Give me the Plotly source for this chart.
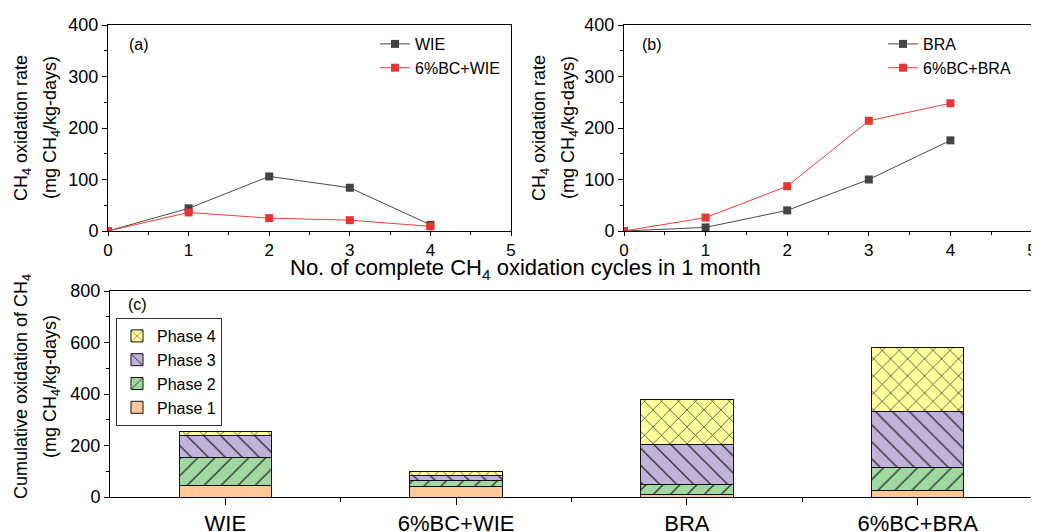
import plotly.graph_objects as go

# ---------------- data ----------------
cycles = [0, 1, 2, 3, 4]
wie = [0, 44, 106, 84, 12]
bc_wie = [0, 36, 25, 21, 9]
bra = [0, 7, 40, 100, 176]
bc_bra = [0, 26, 87, 214, 248]

categories = ["WIE", "6%BC+WIE", "BRA", "6%BC+BRA"]
phase1 = [45, 39, 9, 27]
phase2 = [109, 26, 41, 88]
phase3 = [85, 19, 152, 216]
phase4 = [14, 14, 177, 250]

# page body has an 8px margin; the figure is sized to fill the rest of the window
OFF = 8
W, H = 1039 - OFF, 532 - OFF
FONT = "Arial, Liberation Sans, sans-serif"
DARK = "#4a4a4a"
RED = "#f03c3c"


def px(x):
    return (x - OFF) / W


def py(y):
    return 1 - (y - OFF) / H


fig = go.Figure()

# ---- panel (a) ----
fig.add_trace(go.Scatter(x=cycles, y=wie, name="WIE", mode="lines+markers",
                         line=dict(color=DARK, width=1),
                         marker=dict(symbol="square", size=8, color="#444444"),
                         xaxis="x", yaxis="y", legend="legend"))
fig.add_trace(go.Scatter(x=cycles, y=bc_wie, name="6%BC+WIE", mode="lines+markers",
                         line=dict(color=RED, width=1),
                         marker=dict(symbol="square", size=8, color="#ee3333"),
                         xaxis="x", yaxis="y", legend="legend"))
# ---- panel (b) ----
fig.add_trace(go.Scatter(x=cycles, y=bra, name="BRA", mode="lines+markers",
                         line=dict(color=DARK, width=1),
                         marker=dict(symbol="square", size=8, color="#444444"),
                         xaxis="x2", yaxis="y2", legend="legend2"))
fig.add_trace(go.Scatter(x=cycles, y=bc_bra, name="6%BC+BRA", mode="lines+markers",
                         line=dict(color=RED, width=1),
                         marker=dict(symbol="square", size=8, color="#ee3333"),
                         xaxis="x2", yaxis="y2", legend="legend2"))

# ---- panel (c) ----
xpos = list(range(len(categories)))
phases = [
    ("Phase 1", phase1, "#ffc896", ""),
    ("Phase 2", phase2, "#a0d8a0", "/"),
    ("Phase 3", phase3, "#c0b2d8", "\\"),
    ("Phase 4", phase4, "#ffff9c", "x"),
]
for name, vals, col, shape in phases:
    fig.add_trace(go.Bar(x=xpos, y=vals, name=name, width=0.4,
                         marker=dict(color=col, line=dict(color="#111111", width=1),
                                     pattern=dict(shape=shape, fgcolor="#111111", bgcolor=col,
                                                  size=12, solidity=0.1, fillmode="replace")),
                         xaxis="x3", yaxis="y3", legend="legend3"))

axis_common = dict(showline=True, linecolor="black", linewidth=1, showgrid=False,
                   zeroline=False, ticks="outside", tickcolor="black", ticklen=5,
                   tickfont=dict(family=FONT, size=18, color="black"), mirror=True,
                   automargin=False)
top_x = {**axis_common, "ticklen": 4, "tickfont": dict(family=FONT, size=17, color="black")}
minor_x = dict(ticks="outside", ticklen=3, tickcolor="black", dtick=0.5)

dom_a = [px(108), px(511)]
dom_b = [px(624), px(1032)]
dom_c = [px(110), px(1033)]
ydom_top = [py(231), py(25)]
ydom_bot = [py(497), py(291)]

fig.update_layout(
    template="none",
    width=W, height=H, margin=dict(l=0, r=0, t=0, b=0, autoexpand=False),
    paper_bgcolor="white", plot_bgcolor="white",
    font=dict(family=FONT, color="black"),
    barmode="stack",
    xaxis=dict(domain=dom_a, anchor="y", range=[0, 5], dtick=1, minor=minor_x, **top_x),
    yaxis=dict(domain=ydom_top, anchor="x", range=[0, 400], dtick=100,
               minor=dict(ticks="outside", ticklen=3, tickcolor="black", dtick=50), **axis_common),
    xaxis2=dict(domain=dom_b, anchor="y2", range=[0, 5], dtick=1, minor=minor_x, **top_x),
    yaxis2=dict(domain=ydom_top, anchor="x2", range=[0, 400], dtick=100,
                minor=dict(ticks="outside", ticklen=3, tickcolor="black", dtick=50), **axis_common),
    xaxis3=dict(domain=dom_c, anchor="y3", range=[-0.5, 3.5], tickmode="array",
                tickvals=xpos, ticktext=categories,
                minor=dict(ticks="outside", ticklen=4, tickcolor="black", tickmode="array",
                           tickvals=[i + 0.5 for i in xpos[:-1]]),
                **{**axis_common, "ticklen": 7, "tickfont": dict(family=FONT, size=22, color="black")}),
    yaxis3=dict(domain=ydom_bot, anchor="x3", range=[0, 800], dtick=200,
                minor=dict(ticks="outside", ticklen=3, tickcolor="black", dtick=100), **axis_common),
    showlegend=True,
    legend=dict(x=px(375), y=py(27), xanchor="left", yanchor="top",
                bgcolor="rgba(0,0,0,0)", font=dict(family=FONT, size=16), itemwidth=30,
                tracegroupgap=0),
    legend2=dict(x=px(883), y=py(27), xanchor="left", yanchor="top",
                 bgcolor="rgba(0,0,0,0)", font=dict(family=FONT, size=16), itemwidth=30),
    legend3=dict(x=px(116), y=py(318), xanchor="left", yanchor="top", traceorder="reversed",
                 bgcolor="white", bordercolor="#333333", borderwidth=1,
                 font=dict(family=FONT, size=16), itemwidth=30),
)

# top / right inside ticks via overlay axes
inside = dict(showline=False, showgrid=False, zeroline=False, ticks="inside",
              tickcolor="black", ticklen=5, showticklabels=False, automargin=False)
fig.update_layout(
    xaxis4=dict(overlaying="x", anchor="y", side="top", range=[0, 5], dtick=1,
                minor=dict(ticks="inside", ticklen=3, tickcolor="black", dtick=0.5), **inside),
    yaxis4=dict(overlaying="y", anchor="x", side="right", range=[0, 400], dtick=100,
                minor=dict(ticks="inside", ticklen=3, tickcolor="black", dtick=50), **inside),
    xaxis5=dict(overlaying="x2", anchor="y2", side="top", range=[0, 5], dtick=1,
                minor=dict(ticks="inside", ticklen=3, tickcolor="black", dtick=0.5), **inside),
    yaxis5=dict(overlaying="y2", anchor="x2", side="right", range=[0, 400], dtick=100,
                minor=dict(ticks="inside", ticklen=3, tickcolor="black", dtick=50), **inside),
    xaxis6=dict(overlaying="x3", anchor="y3", side="top", range=[-0.5, 3.5], dtick=0.5, tick0=0,
                **{**inside, "ticklen": 7}),
    yaxis6=dict(overlaying="y3", anchor="x3", side="right", range=[0, 800], dtick=200,
                minor=dict(ticks="inside", ticklen=4, tickcolor="black", dtick=100),
                **{**inside, "ticklen": 7}),
)

ann_font = dict(family=FONT, size=18, color="black")
annotations = [
    dict(text="(a)", x=px(139), y=py(44), font=dict(family=FONT, size=16)),
    dict(text="(b)", x=px(652), y=py(44), font=dict(family=FONT, size=16)),
    dict(text="(c)", x=px(137), y=py(304), font=dict(family=FONT, size=16)),
    dict(text="No. of complete CH<sub>4</sub> oxidation cycles in 1 month",
         x=px(525), y=py(269), font=dict(family=FONT, size=22)),
    dict(text="CH<sub>4</sub> oxidation rate", x=px(23), y=py(128), textangle=-90, font=ann_font),
    dict(text="(mg CH<sub>4</sub>/kg-days)", x=px(52), y=py(128), textangle=-90, font=ann_font),
    dict(text="CH<sub>4</sub> oxidation rate", x=px(541), y=py(128), textangle=-90, font=ann_font),
    dict(text="(mg CH<sub>4</sub>/kg-days)", x=px(570), y=py(128), textangle=-90, font=ann_font),
    dict(text="Cumulative oxidation of CH<sub>4</sub>", x=px(22), y=py(387), textangle=-90, font=ann_font),
    dict(text="(mg CH<sub>4</sub>/kg-days)", x=px(51), y=py(387), textangle=-90, font=ann_font),
]
for a in annotations:
    a.update(xref="paper", yref="paper", showarrow=False, xanchor="center", yanchor="middle")
fig.update_layout(annotations=annotations)

fig.write_html("out.html")
